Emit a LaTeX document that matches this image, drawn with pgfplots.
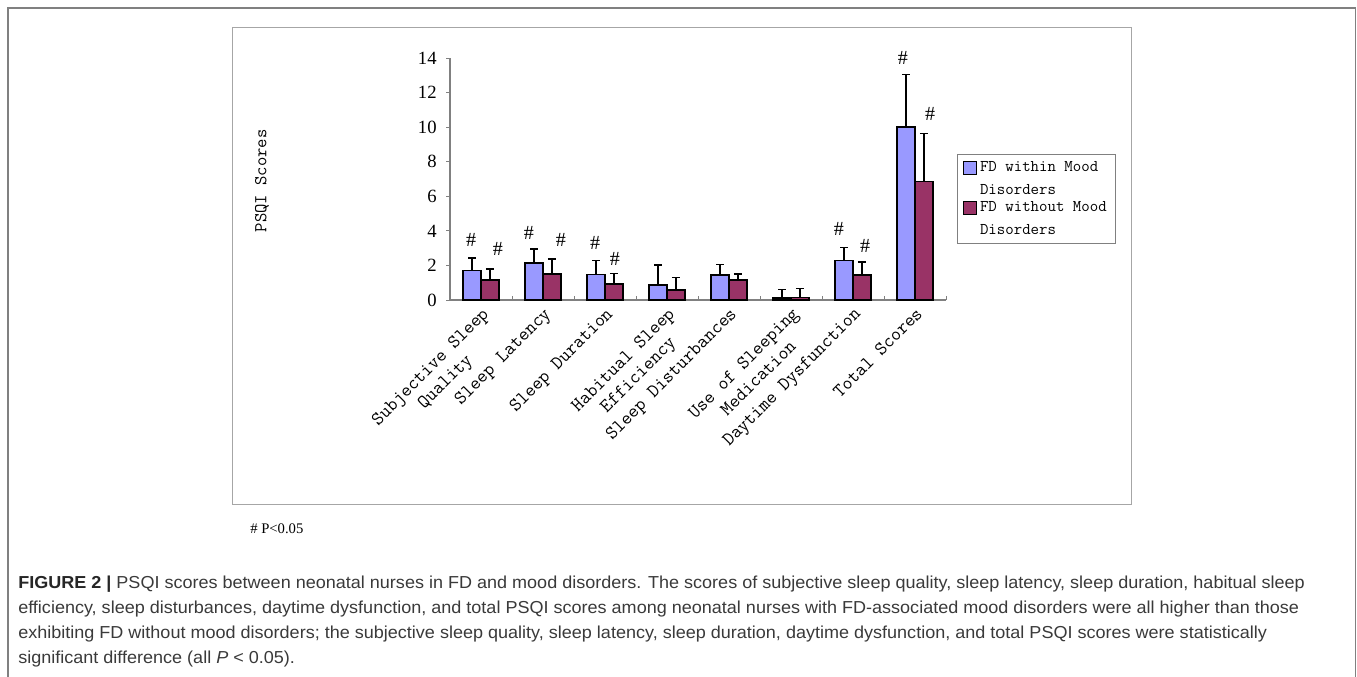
\documentclass[border=0pt]{standalone}
\usepackage{fontspec}
\setmainfont{Liberation Serif}
\newfontfamily\capfont[FakeStretch=1.04]{Liberation Sans}
\usepackage{pgfplots}
\pgfplotsset{compat=1.18}

\definecolor{barblue}{HTML}{9999FF}
\definecolor{barred}{HTML}{993366}
\definecolor{framegray}{HTML}{808080}
\definecolor{captext}{HTML}{3A3A3A}

\pgfplotsset{
  errplot/.style={draw=none, mark=none, forget plot,
    error bars/.cd, y dir=plus, y explicit,
    error bar style={draw=black, line width=1.1pt},
    error mark options={rotate=90, mark size=3pt, line width=1.1pt, draw=black}},
  hashplot/.style={draw=none, mark=none, forget plot, nodes near coords={\#},
    every node near coord/.append style={anchor=center, inner sep=0pt, text=black,
      font=\fontsize{15}{15}\selectfont}},
}

\begin{document}
\begin{tikzpicture}
% frames and free text, in pixel units of the reference (y down)
\begin{scope}[x=0.75pt,y=-0.75pt]
  \useasboundingbox (0,0) rectangle (1357,677);
  \fill[white] (0,0) rectangle (1357,677);
  \draw[framegray, line width=1.4pt] (8,677) -- (8,8) -- (1355.5,8) -- (1355.5,677);
  \draw[gray!70, line width=0.7pt] (232,27) rectangle (1131,504);
  \node[anchor=base west, inner sep=0pt, font=\fontsize{11}{13}\selectfont] at (250,533) {\# P<0.05};
  \begin{scope}[every node/.style={anchor=base west, inner sep=0pt, text=captext,
      font=\capfont\fontsize{13}{19}\selectfont}]
    \node at (18,588) {\textbf{\color{black!85}FIGURE 2 |} PSQI scores between neonatal nurses in FD and mood disorders. The scores of subjective sleep quality, sleep latency, sleep duration, habitual sleep};
    \node at (18,613) {efficiency, sleep disturbances, daytime dysfunction, and total PSQI scores among neonatal nurses with FD-associated mood disorders were all higher than those};
    \node at (18,638) {exhibiting FD without mood disorders; the subjective sleep quality, sleep latency, sleep duration, daytime dysfunction, and total PSQI scores were statistically};
    \node at (18,663) {significant difference (all \textit{P} < 0.05).};
  \end{scope}
\end{scope}

\begin{axis}[
  at={(337.5pt,-225pt)}, anchor=south west,
  scale only axis, width=372pt, height=181.5pt,
  xmin=0.5, xmax=8.5, ymin=0, ymax=14,
  clip=false,
  axis x line*=bottom, axis y line*=left,
  axis line style={draw=framegray, line width=0.8pt, -},
  ytick={0,2,...,14},
  xtick={1,...,8},
  xticklabels={{Subjective Sleep\\Quality},{Sleep Latency},{Sleep Duration},{Habitual Sleep\\Efficiency},{Sleep Disturbances},{Use of Sleeping\\Medication},{Daytime Dysfunction},{Total Scores}},
  xticklabel style={rotate=45, anchor=north east, align=center,
    font=\ttfamily\fontsize{14.3}{15.75}\selectfont},
  minor xtick={1.5,2.5,...,8.5},
  tick align=inside,
  major tick length=3pt, minor tick length=3pt,
  every major x tick/.append style={draw=none},
  every minor x tick/.append style={draw=framegray, line width=0.6pt},
  every major y tick/.append style={draw=framegray, line width=0.6pt, xshift=-3pt},
  /pgf/number format/assume math mode=true,
  yticklabel style={font=\fontsize{14}{14}\selectfont, xshift=-6.5pt},
  ylabel={PSQI Scores},
  ylabel style={at={(axis description cs:-0.379,0.492)}, anchor=center,
    font=\ttfamily\fontsize{13.6}{14}\selectfont},
  legend cell align=left,
  legend style={at={(axis description cs:1.022,0.603)}, anchor=north west,
    draw=framegray, line width=0.6pt, cells={align=left}, inner xsep=4.5pt, inner ysep=3pt,
    font=\ttfamily\fontsize{12.3}{17.2}\selectfont},
]

% FD within mood disorders
\addplot[ybar, bar width=13.5pt, bar shift=-6.75pt, fill=barblue, draw=black, line width=1.1pt,
  legend image code/.code={\draw[fill=barblue, draw=black, line width=0.8pt] (0pt,3pt) rectangle (9.75pt,12.75pt);}]
coordinates {(1,1.71) (2,2.13) (3,1.46) (4,0.88) (5,1.44) (6,0.12) (7,2.30) (8,10.0)};
\addlegendentry{FD within Mood\\Disorders}

% FD without mood disorders
\addplot[ybar, bar width=13.5pt, bar shift=6.75pt, fill=barred, draw=black, line width=1.1pt,
  legend image code/.code={\draw[fill=barred, draw=black, line width=0.8pt] (0pt,3pt) rectangle (9.75pt,12.75pt);}]
coordinates {(1,1.15) (2,1.50) (3,0.92) (4,0.58) (5,1.15) (6,0.15) (7,1.44) (8,6.85)};
\addlegendentry{FD without Mood\\Disorders}

% upper error bars, at the centres of the bars
\addplot[errplot] coordinates {
  (0.855,1.71) +- (0,0.71)
  (1.855,2.13) +- (0,0.81)
  (2.855,1.46) +- (0,0.84)
  (3.855,0.88) +- (0,1.14)
  (4.855,1.44) +- (0,0.61)
  (5.855,0.12) +- (0,0.49)
  (6.855,2.30) +- (0,0.73)
  (7.855,10.0) +- (0,3.05)
};
\addplot[errplot] coordinates {
  (1.145,1.15) +- (0,0.65)
  (2.145,1.50) +- (0,0.86)
  (3.145,0.92) +- (0,0.62)
  (4.145,0.58) +- (0,0.73)
  (5.145,1.15) +- (0,0.35)
  (6.145,0.15) +- (0,0.52)
  (7.145,1.44) +- (0,0.75)
  (8.145,6.85) +- (0,2.78)
};

% significance marks
\addplot[hashplot] coordinates {(0.839,3.45) (1.774,3.88) (2.839,3.30) (6.774,4.09) (7.806,14.0)};
\addplot[hashplot] coordinates {(1.274,2.97) (2.290,3.49) (3.161,2.36) (7.194,3.13) (8.242,10.75)};

\end{axis}
\end{tikzpicture}
\end{document}
